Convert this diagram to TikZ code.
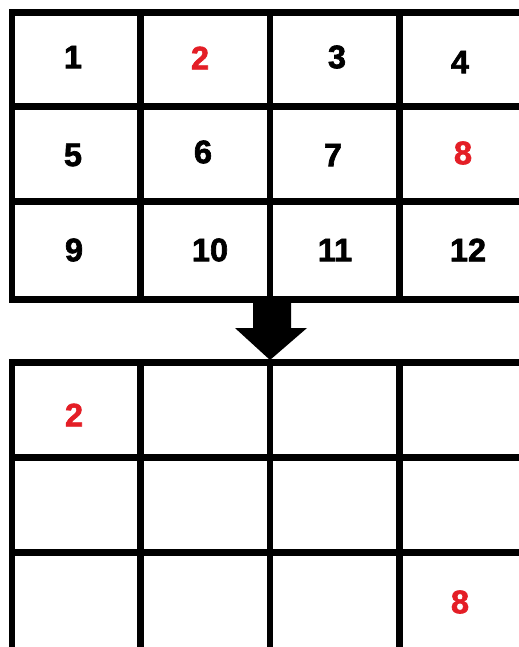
\documentclass[tikz,border=0pt]{standalone}
\usepackage{fontspec}
\setmainfont{Liberation Sans}
\newfontfamily\heavyfont{Liberation Sans}[UprightFont=*, BoldFont=* Bold, BoldFeatures={FakeBold=2}]
\usetikzlibrary{calc, positioning}
\definecolor{numred}{RGB}{228,30,38}
\tikzset{
  gridline/.style={line width=0.14cm, line cap=rect},
  cellnum/.style={font=\heavyfont\bfseries\fontsize{18.5}{18.5}\selectfont, inner sep=0pt},
  movednum/.style={cellnum, text=numred},
}
\begin{document}
\begin{tikzpicture}[x=0.02cm, y=-0.02cm]
\useasboundingbox[fill=white] (0,0) rectangle (519,647);

% top grid
\foreach \yy in {12,106,201,299}
  \draw[gridline] (12,\yy) -- (530,\yy);
\foreach \xx in {12,140.5,270,399}
  \draw[gridline] (\xx,12) -- (\xx,299);

% bottom grid
\foreach \yy in {362,457.5,552.5}
  \draw[gridline] (12,\yy) -- (530,\yy);
\foreach \xx in {12,140.5,270,399}
  \draw[gridline] (\xx,362) -- (\xx,660);

% arrow
\coordinate (ArrTip) at (270,360);
\fill (253,299) -- (291,299) -- (291,328) -- (307,328) -- (ArrTip) -- (235,328) -- (253,328) -- cycle;

% numbers
\foreach \num/\xx/\yy in {1/73/57, 3/337/57, 4/460/62, 5/73/155, 6/203/152,
                          7/333/155, 9/74/250, 10/210/250, 11/335/250, 12/468/250}
  \node[cellnum] (n\num) at (\xx,\yy) {\num};
\node[movednum] (n2) at (200,58) {2};
\node[movednum] (n8) at (463,153) {8};

\node[movednum] (m2) at (74,415) {2};
\node[movednum] (m8) at (460,602) {8};
\end{tikzpicture}
\end{document}
